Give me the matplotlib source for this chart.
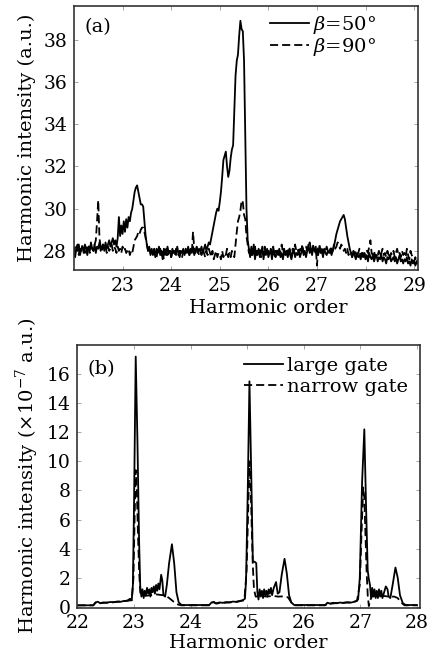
import numpy as np
import matplotlib
matplotlib.use('Agg')
import matplotlib.pyplot as plt

plt.rcParams['font.family'] = ['DejaVu Serif']
plt.rcParams['mathtext.fontset'] = 'dejavuserif'

# ---- panel (a): harmonic spectra, sampled every 0.025 from 22.0 ----
a_start = 22.0
a_step = 0.025
beta50 = [
    27.9, 27.7, 28.2, 28.0, 28.3, 27.8, 28.1, 28.2,
    27.9, 28.3, 28.1, 27.8, 28.2, 28.0, 28.4, 28.1,
    28.0, 28.3, 27.9, 28.2, 28.1, 28.4, 28.0, 28.2,
    28.3, 28.0, 28.4, 28.1, 28.3, 28.5, 28.2, 28.4,
    28.6, 28.3, 28.5, 28.2, 28.6, 29.6, 28.7, 29.2,
    28.8, 29.4, 28.9, 29.5, 29.1, 29.6, 29.4, 29.8,
    30.0, 30.4, 30.8, 31.0, 31.1, 30.8, 30.5, 30.2,
    30.2, 30.1, 29.4, 28.7, 28.3, 28.0, 28.2, 27.8,
    28.1, 27.8, 28.0, 27.7, 28.1, 27.9, 28.2, 27.8,
    28.0, 27.6, 28.1, 27.9, 27.8, 28.2, 27.9, 28.0,
    27.7, 28.1, 27.9, 28.0, 27.8, 28.2, 27.9, 27.7,
    28.0, 27.9, 28.1, 27.8, 28.0, 27.9, 28.2, 27.8,
    28.1, 27.9, 28.2, 27.8, 28.0, 28.2, 27.9, 28.1,
    28.0, 28.2, 27.9, 28.1, 28.3, 28.0, 28.2, 28.4,
    28.3, 28.6, 28.9, 29.2, 29.5, 29.8, 30.0, 29.9,
    30.3, 30.8, 31.5, 32.3, 32.5, 32.7, 32.0, 31.5,
    31.8, 32.4, 32.8, 33.0, 34.6, 36.3, 37.0, 37.3,
    38.2, 38.9, 38.5, 38.4, 37.0, 33.5, 30.0, 28.5,
    28.1, 27.7, 28.2, 27.8, 28.3, 27.6, 28.0, 27.8,
    28.1, 27.7, 27.9, 28.2, 27.6, 28.0, 27.8, 28.1,
    27.7, 27.9, 28.0, 27.6, 28.1, 27.8, 27.7, 28.0,
    27.8, 28.1, 27.7, 27.9, 27.6, 28.0, 27.8, 27.9,
    27.7, 28.0, 27.8, 27.6, 27.9, 28.1, 27.7, 27.9,
    27.8, 28.0, 27.7, 27.9, 28.2, 27.8, 28.0, 27.7,
    28.0, 28.3, 27.9, 28.1, 27.8, 28.2, 28.0, 27.9,
    28.1, 27.8, 28.2, 27.9, 28.0, 27.7, 28.1, 27.9,
    27.8, 28.0, 27.9, 28.1, 27.8, 28.0, 28.2, 28.5,
    28.8, 29.0, 29.2, 29.4, 29.5, 29.6, 29.7, 29.5,
    29.1, 28.7, 28.4, 28.1, 27.9, 27.7, 28.0, 27.8,
    27.6, 27.9, 27.7, 27.8, 27.6, 27.9, 27.7, 27.8,
    27.6, 27.8, 27.5, 27.9, 27.7, 27.6, 27.8, 27.5,
    27.7, 27.8, 27.5, 27.7, 27.6, 27.8, 27.5, 27.7,
    27.6, 27.4, 27.7, 27.6, 27.8, 27.5, 27.6, 27.7,
    27.5, 27.7, 27.4, 27.6, 27.8, 27.5, 27.6, 27.4,
    27.6, 27.5, 27.7, 27.4, 27.5, 27.3, 27.6, 27.4,
    27.5, 27.3, 27.5, 27.4,
]
beta90 = [
    28.2, 27.9, 28.1, 28.3, 27.8, 28.2, 28.0, 28.3,
    28.1, 27.9, 28.2, 28.0, 28.3, 27.9, 28.2, 28.1,
    28.0, 28.3, 28.5, 29.4, 30.4, 28.6, 28.2, 28.0,
    28.3, 28.1, 28.2, 27.9, 28.2, 28.0, 28.1, 28.3,
    28.0, 28.2, 28.1, 27.9, 28.2, 28.0, 28.1, 27.9,
    28.2, 28.0, 28.1, 27.9, 28.0, 28.1, 27.8, 28.0,
    27.9, 28.2, 28.5, 28.6, 28.7, 28.9, 28.8, 29.0,
    29.1, 29.1, 28.9, 28.6, 28.3, 28.0, 28.1, 27.9,
    28.0, 27.8, 28.1, 27.9, 27.7, 28.0, 27.9, 28.1,
    27.8, 28.0, 27.6, 27.9, 28.1, 27.8, 27.9, 28.0,
    27.7, 27.9, 28.0, 27.8, 28.1, 27.9, 27.8, 28.0,
    27.9, 27.7, 28.0, 27.8, 28.1, 27.9, 28.0, 27.8,
    28.0, 27.9, 28.9, 28.1, 27.9, 28.2, 28.0, 27.8,
    28.0, 27.8, 28.1, 27.9, 27.7, 28.0, 27.8, 28.1,
    27.9, 27.7, 28.0, 27.6, 27.8, 28.0, 27.7, 27.9,
    27.8, 27.6, 28.0, 27.7, 27.9, 27.8, 28.1, 27.7,
    27.9, 27.7, 28.0, 27.8, 27.7, 28.3, 28.9, 29.4,
    29.6, 29.9, 30.4, 30.3, 29.7, 29.5, 28.7, 28.3,
    27.9, 28.1, 27.8, 28.0, 27.9, 28.2, 27.8, 28.0,
    27.9, 28.1, 27.7, 28.0, 27.8, 28.2, 27.9, 27.8,
    28.0, 27.8, 28.1, 27.9, 28.2, 27.8, 28.0, 27.9,
    28.1, 27.8, 28.0, 28.3, 27.9, 28.1, 27.8, 28.0,
    27.9, 28.2, 28.0, 27.8, 28.1, 27.9, 28.3, 28.0,
    28.1, 27.9, 28.2, 28.0, 28.3, 27.9, 28.1, 28.2,
    28.0, 28.2, 28.4, 28.1, 27.9, 28.3, 28.0, 28.2,
    27.3, 28.1, 28.3, 28.0, 28.2, 27.9, 28.1, 28.0,
    28.2, 28.0, 28.1, 27.9, 28.2, 28.0, 28.3, 28.1,
    28.2, 28.4, 28.3, 28.1, 28.3, 28.2, 28.0, 28.1,
    27.9, 28.1, 27.8, 28.0, 27.9, 27.7, 28.0, 27.8,
    28.0, 27.8, 27.9, 28.1, 27.7, 28.0, 27.8, 27.9,
    27.8, 28.0, 27.9, 28.2, 28.5, 27.9, 27.8, 28.0,
    27.7, 27.9, 27.8, 28.0, 27.7, 27.9, 28.1, 27.8,
    27.9, 27.7, 28.0, 27.8, 27.6, 27.9, 27.8, 28.0,
    27.7, 27.9, 28.1, 27.8, 27.9, 27.7, 28.0, 27.8,
    27.9, 27.7, 28.1, 27.8, 27.6, 28.0, 27.8, 27.7,
    27.5, 27.7, 27.4, 27.6,
]

# ---- panel (b): (order, intensity) pairs ----
large_gate = [
    (22.00, 0.10), (22.28, 0.10), (22.32, 0.30), (22.36, 0.35), (22.40, 0.25),
    (22.46, 0.30), (22.52, 0.28), (22.58, 0.33), (22.64, 0.31), (22.70, 0.36),
    (22.76, 0.34), (22.82, 0.40), (22.88, 0.42), (22.93, 0.55), (22.96, 0.45),
    (22.98, 1.5), (23.00, 7.0), (23.03, 17.2), (23.06, 11.5), (23.09, 4.5),
    (23.11, 1.4), (23.13, 0.7), (23.15, 1.2), (23.17, 0.6), (23.19, 1.1),
    (23.21, 0.8), (23.23, 1.3), (23.25, 0.9), (23.27, 1.2), (23.29, 0.7),
    (23.31, 1.3), (23.33, 1.0), (23.35, 1.4), (23.37, 0.9), (23.39, 1.5),
    (23.41, 1.1), (23.43, 1.6), (23.45, 1.2), (23.48, 2.2), (23.50, 1.8),
    (23.52, 0.8), (23.55, 0.7), (23.58, 1.5), (23.62, 3.0), (23.67, 4.3),
    (23.71, 3.0), (23.75, 1.0), (23.79, 0.3), (23.84, 0.12), (24.33, 0.12),
    (24.37, 0.30), (24.41, 0.33), (24.45, 0.24), (24.51, 0.30), (24.57, 0.27),
    (24.63, 0.32), (24.69, 0.30), (24.75, 0.36), (24.81, 0.33), (24.87, 0.40),
    (24.92, 0.45), (24.96, 0.55), (24.98, 1.8), (25.01, 8.0), (25.04, 15.5),
    (25.07, 9.5), (25.10, 3.1), (25.13, 3.1), (25.16, 3.0), (25.18, 1.0),
    (25.20, 0.5), (25.22, 1.2), (25.24, 0.7), (25.26, 1.1), (25.28, 0.6),
    (25.30, 1.2), (25.32, 0.8), (25.34, 1.1), (25.36, 0.7), (25.38, 1.2),
    (25.40, 0.9), (25.42, 1.3), (25.44, 0.8), (25.47, 1.3), (25.51, 1.7),
    (25.54, 0.9), (25.57, 1.0), (25.61, 2.2), (25.66, 3.3), (25.70, 2.3),
    (25.74, 0.8), (25.78, 0.3), (25.83, 0.12), (26.38, 0.12), (26.42, 0.28),
    (26.46, 0.22), (26.52, 0.27), (26.58, 0.24), (26.64, 0.29), (26.70, 0.26),
    (26.76, 0.31), (26.82, 0.28), (26.88, 0.33), (26.93, 0.40), (26.96, 0.50),
    (26.99, 2.0), (27.03, 8.5), (27.07, 12.2), (27.10, 7.0), (27.13, 2.5),
    (27.15, 1.9), (27.17, 1.5), (27.19, 0.6), (27.21, 1.3), (27.23, 0.7),
    (27.25, 1.2), (27.27, 0.6), (27.29, 1.1), (27.31, 0.6), (27.33, 1.2),
    (27.35, 0.7), (27.37, 1.1), (27.39, 0.6), (27.42, 1.0), (27.45, 1.4),
    (27.48, 1.2), (27.50, 0.7), (27.53, 0.6), (27.57, 1.5), (27.62, 2.7),
    (27.66, 2.0), (27.70, 0.8), (27.75, 0.25), (27.80, 0.12), (28.00, 0.12),
]
narrow_gate = [
    (22.00, 0.10), (22.28, 0.10), (22.32, 0.28), (22.36, 0.33), (22.40, 0.24),
    (22.50, 0.28), (22.60, 0.30), (22.70, 0.34), (22.80, 0.38), (22.90, 0.42),
    (22.96, 0.45), (22.99, 2.0), (23.01, 6.0), (23.03, 9.4), (23.05, 8.0),
    (23.07, 5.0), (23.09, 2.5), (23.11, 1.0), (23.13, 0.8), (23.20, 0.75),
    (23.30, 0.8), (23.40, 0.85), (23.50, 0.8), (23.55, 0.8), (23.62, 0.6),
    (23.70, 0.35), (23.78, 0.15), (23.84, 0.10), (24.33, 0.10), (24.37, 0.28),
    (24.41, 0.31), (24.45, 0.22), (24.55, 0.27), (24.65, 0.29), (24.75, 0.33),
    (24.85, 0.37), (24.95, 0.45), (24.99, 2.5), (25.02, 7.0), (25.04, 10.0),
    (25.06, 8.5), (25.08, 5.5), (25.10, 2.8), (25.12, 1.2), (25.15, 0.7),
    (25.25, 0.75), (25.35, 0.7), (25.45, 0.75), (25.55, 0.7), (25.65, 0.72),
    (25.72, 0.65), (25.78, 0.3), (25.83, 0.10), (26.38, 0.10), (26.42, 0.25),
    (26.46, 0.20), (26.56, 0.25), (26.66, 0.27), (26.76, 0.29), (26.86, 0.32),
    (26.94, 0.40), (26.99, 1.5), (27.02, 5.0), (27.05, 8.2), (27.07, 7.5),
    (27.09, 5.0), (27.11, 2.5), (27.13, 0.8), (27.15, 0.05), (27.18, 0.5),
    (27.21, 0.75), (27.30, 0.7), (27.40, 0.75), (27.50, 0.7), (27.60, 0.7),
    (27.66, 0.6), (27.72, 0.3), (27.78, 0.10), (28.00, 0.10),
]

a_xticks = [23, 24, 25, 26, 27, 28, 29]
a_yticks = [28, 30, 32, 34, 36, 38]
b_xticks = [22, 23, 24, 25, 26, 27, 28]
b_yticks = [0, 2, 4, 6, 8, 10, 12, 14, 16]

dash = (0, (4.5, 2.2))
fs = 14
tfs = 13.5
lw = 1.3


def style(ax):
    for s in ax.spines.values():
        s.set_linewidth(1.2)
        s.set_color('#333333')
    ax.tick_params(direction='in', length=3, width=0.6, color='#999999',
                   top=True, right=True, labelsize=tfs, pad=5)


fig = plt.figure(figsize=(4.35, 6.63), dpi=100)

# (a)
ax1 = fig.add_axes([0.170, 0.593, 0.791, 0.398])
xa = a_start + a_step * np.arange(len(beta50))
xb = a_start + a_step * np.arange(len(beta90))
ax1.plot(xa, beta50, color='black', lw=lw, label=r'$\beta$=50°')
ax1.plot(xb, beta90, color='black', lw=lw, ls=dash, label=r'$\beta$=90°')
ax1.set_xlim(22.0, 29.08)
ax1.set_ylim(27.1, 39.6)
ax1.set_xticks(a_xticks)
ax1.set_yticks(a_yticks)
style(ax1)
ax1.set_xlabel('Harmonic order', fontsize=fs)
ax1.xaxis.set_label_coords(0.564, -0.11)
ax1.set_ylabel('Harmonic intensity (a.u.)', fontsize=fs)
ax1.yaxis.set_label_coords(-0.11, 0.5)
ax1.text(0.03, 0.92, '(a)', transform=ax1.transAxes, fontsize=fs,
         va='center', ha='left')
ax1.legend(loc='upper right', bbox_to_anchor=(0.90, 1.0), frameon=False,
           fontsize=fs, handlelength=2.0, handletextpad=0.2,
           labelspacing=0.0, borderaxespad=0.2, borderpad=0.2)

# (b)
ax2 = fig.add_axes([0.178, 0.0837, 0.787, 0.396])
lx, ly = zip(*large_gate)
nx, ny = zip(*narrow_gate)
ax2.plot(lx, ly, color='black', lw=lw, label='large gate')
ax2.plot(nx, ny, color='black', lw=lw, ls=dash, label='narrow gate')
ax2.set_xlim(22, 28.05)
ax2.set_ylim(-0.05, 18.0)
ax2.set_xticks(b_xticks)
ax2.set_yticks(b_yticks)
style(ax2)
ax2.set_xlabel('Harmonic order', fontsize=fs, labelpad=1)
ax2.set_ylabel('Harmonic intensity (×10$^{-7}$ a.u.)', fontsize=fs)
ax2.yaxis.set_label_coords(-0.105, 0.5)
ax2.text(0.03, 0.91, '(b)', transform=ax2.transAxes, fontsize=fs,
         va='center', ha='left')
ax2.legend(loc='upper right', bbox_to_anchor=(1.0, 1.0), frameon=False,
           fontsize=fs, handlelength=2.0, handletextpad=0.2,
           labelspacing=0.15, borderaxespad=0.4, borderpad=0.2)

fig.savefig('out.png', dpi=100)
